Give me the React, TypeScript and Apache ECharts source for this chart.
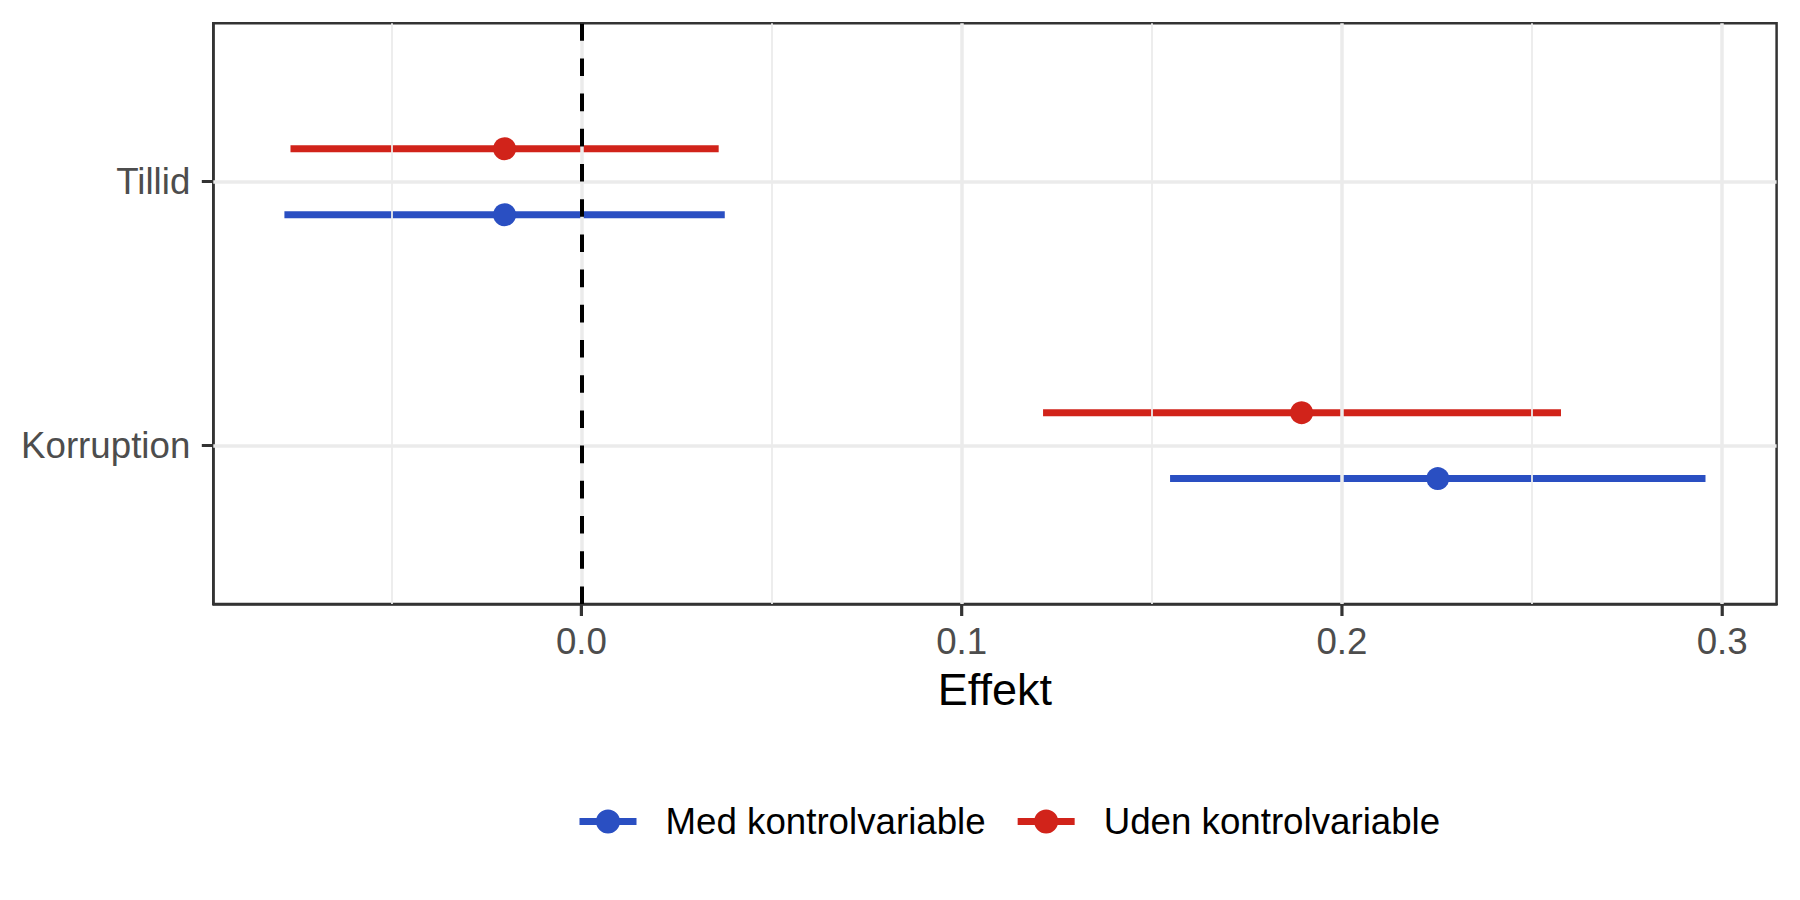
import React, { useEffect, useRef } from "react";
import * as echarts from "echarts";

// ---- data ----
const categories = ["Korruption", "Tillid"];
const categoryPos = [1, 2];
const seriesNames = ["Med kontrolvariable", "Uden kontrolvariable"];
const medEstimate = [0.2252, -0.0202];
const medLower = [0.1548, -0.0781];
const medUpper = [0.2956, 0.0377];
const udenEstimate = [0.1894, -0.0202];
const udenLower = [0.1214, -0.0765];
const udenUpper = [0.2576, 0.0361];
const xTickValues = [0, 0.1, 0.2, 0.3];
const xMinorValues = [-0.05, 0.05, 0.15, 0.25];
const referenceLine = 0;

const BLUE = "#2A4FC2";
const RED = "#D1231A";
const FONT = "'Liberation Sans', Arial, Helvetica, sans-serif";
const DODGE = 0.125;

const X_MIN = -0.0968;
const X_MAX = 0.3143;
const Y_MIN = 0.4;
const Y_MAX = 2.6;

const legendIcon =
  "path://M0 8.5 H57 V15.5 H0 Z M16.5 12 A12 12 0 1 1 40.5 12 A12 12 0 1 1 16.5 12 Z";

function buildRows(lower: number[], upper: number[], estimate: number[], offset: number) {
  return categoryPos.map((p, i) => [lower[i], upper[i], estimate[i], p + offset]);
}

export default function App() {
  const ref = useRef<HTMLDivElement>(null);

  useEffect(() => {
    if (!ref.current) return;
    const chart = echarts.init(ref.current, null, { renderer: "svg" });

    const medRows = buildRows(medLower, medUpper, medEstimate, -DODGE);
    const udenRows = buildRows(udenLower, udenUpper, udenEstimate, DODGE);

    const renderBar = (color: string) => (params: any, api: any) => {
      const a = api.coord([api.value(0), api.value(3)]);
      const b = api.coord([api.value(1), api.value(3)]);
      return {
        type: "line",
        shape: { x1: a[0], y1: a[1], x2: b[0], y2: b[1] },
        style: { stroke: color, lineWidth: 7, lineCap: "butt" },
      };
    };

    const gridLines: any[] = [];
    xMinorValues.forEach((v) =>
      gridLines.push({ xAxis: v, lineStyle: { color: "#EBEBEB", width: 1.8, type: "solid" } })
    );
    xTickValues.forEach((v) =>
      gridLines.push({ xAxis: v, lineStyle: { color: "#EBEBEB", width: 3.5, type: "solid" } })
    );
    categoryPos.forEach((v) =>
      gridLines.push({ yAxis: v, lineStyle: { color: "#EBEBEB", width: 3.5, type: "solid" } })
    );

    const axisLineStyle = { show: true, onZero: false, lineStyle: { color: "#333333", width: 2.5 } };

    const option: any = {
      animation: false,
      backgroundColor: "#FFFFFF",
      textStyle: { fontFamily: FONT },
      grid: {
        left: 213.3,
        top: 23.3,
        right: 23.4,
        bottom: 296,
        show: true,
        borderColor: "#333333",
        borderWidth: 2.5,
        backgroundColor: "transparent",
        outerBoundsMode: "none",
      },
      xAxis: {
        type: "value",
        min: X_MIN,
        max: X_MAX,
        name: "Effekt",
        nameLocation: "middle",
        nameGap: 63,
        nameTextStyle: { color: "#000000", fontSize: 45, fontFamily: FONT },
        axisLine: axisLineStyle,
        axisTick: { show: false },
        axisLabel: {
          customValues: xTickValues,
          color: "#4D4D4D",
          fontSize: 36.7,
          fontFamily: FONT,
          margin: 19,
          formatter: (v: number) => v.toFixed(1),
        },
        splitLine: { show: false },
      },
      yAxis: {
        type: "value",
        min: Y_MIN,
        max: Y_MAX,
        axisLine: axisLineStyle,
        axisTick: {
          show: true,
          inside: false,
          customValues: categoryPos,
          length: 11.5,
          lineStyle: { color: "#333333", width: 3 },
        },
        axisLabel: {
          customValues: categoryPos,
          color: "#4D4D4D",
          fontSize: 36.7,
          fontFamily: FONT,
          margin: 23,
          formatter: (v: number) => {
            const idx = categoryPos.indexOf(Math.round(v));
            return idx >= 0 ? categories[idx] : "";
          },
        },
        splitLine: { show: false },
      },
      legend: {
        left: 574.5,
        top: 798,
        orient: "horizontal",
        itemWidth: 57,
        itemHeight: 24,
        itemGap: 32,
        icon: legendIcon,
        textStyle: {
          color: "#000000",
          fontSize: 36.7,
          fontFamily: FONT,
          padding: [0, 0, 0, 24],
        },
        data: [
          { name: seriesNames[0], itemStyle: { color: BLUE } },
          { name: seriesNames[1], itemStyle: { color: RED } },
        ],
      },
      series: [
        {
          type: "line",
          name: "grid",
          data: [],
          silent: true,
          z: 0,
          markLine: {
            silent: true,
            symbol: ["none", "none"],
            label: { show: false },
            animation: false,
            data: gridLines,
          },
        },
        {
          type: "line",
          name: "ref",
          data: [],
          silent: true,
          z: 1,
          markLine: {
            silent: true,
            symbol: ["none", "none"],
            label: { show: false },
            animation: false,
            data: [
              {
                xAxis: referenceLine,
                lineStyle: { color: "#000000", width: 4, type: [17.6, 17.6] },
              },
            ],
          },
        },
        {
          type: "custom",
          name: seriesNames[0],
          z: 3,
          itemStyle: { color: BLUE },
          encode: { x: [0, 1], y: 3 },
          renderItem: renderBar(BLUE),
          data: medRows,
        },
        {
          type: "custom",
          name: seriesNames[1],
          z: 3,
          itemStyle: { color: RED },
          encode: { x: [0, 1], y: 3 },
          renderItem: renderBar(RED),
          data: udenRows,
        },
        {
          type: "scatter",
          name: seriesNames[0],
          z: 4,
          symbol: "circle",
          symbolSize: 23,
          itemStyle: { color: BLUE, opacity: 1 },
          data: medRows.map((r) => [r[2], r[3]]),
        },
        {
          type: "scatter",
          name: seriesNames[1],
          z: 4,
          symbol: "circle",
          symbolSize: 23,
          itemStyle: { color: RED, opacity: 1 },
          data: udenRows.map((r) => [r[2], r[3]]),
        },
      ],
    };

    chart.setOption(option);

    // x-axis ticks placed through the chart's own scale
    const tickGraphics = xTickValues.map((v) => {
      const p = chart.convertToPixel({ gridIndex: 0 }, [v, Y_MIN]) as number[];
      return {
        type: "rect",
        silent: true,
        z: 100,
        shape: { x: p[0] - 1.6, y: p[1] + 1, width: 3.2, height: 11 },
        style: { fill: "#333333" },
      };
    });
    chart.setOption({ graphic: { elements: tickGraphics } });

    return () => chart.dispose();
  }, []);

  return (
    <div
      ref={ref}
      style={{ position: "fixed", left: 0, top: 0, width: 1800, height: 900, background: "#fff" }}
    />
  );
}
